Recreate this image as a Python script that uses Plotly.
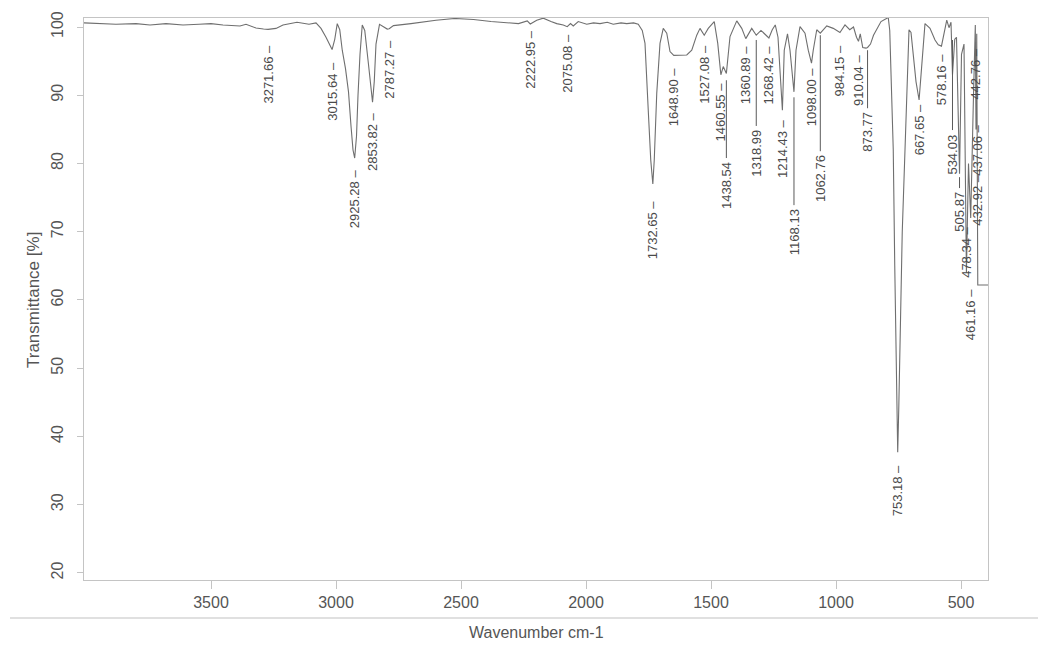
import plotly.graph_objects as go

# FT-IR spectrum: wavenumber (cm-1) vs transmittance (%)
wavenumber = [
    4008, 3880, 3800, 3744, 3680, 3612, 3548, 3500, 3452, 3384, 3360, 3320, 3290, 3271.66,
    3240, 3212, 3156, 3108, 3080, 3060, 3040, 3025, 3015.64, 3005, 2995, 2985, 2975, 2962,
    2950, 2940, 2932, 2925.28, 2918, 2912, 2904, 2895, 2885, 2870, 2860, 2853.82, 2847, 2840,
    2826, 2810, 2795, 2787.27, 2770, 2700, 2600, 2525, 2450, 2380, 2320, 2270, 2235, 2222.95,
    2197, 2171, 2140, 2117, 2091, 2075.08, 2062, 2051, 2031, 1997, 1970, 1944, 1915, 1891,
    1860, 1837, 1810, 1791, 1775, 1764, 1751, 1741, 1732.65, 1727, 1717, 1704, 1691, 1677,
    1664, 1648.90, 1597, 1577, 1557, 1544, 1527.08, 1511, 1487, 1473, 1460.55, 1451, 1438.54,
    1424, 1397, 1377, 1360.89, 1337, 1318.99, 1300, 1268.42, 1255, 1243, 1232, 1214.43, 1207,
    1194, 1184, 1168.13, 1160, 1144, 1124, 1111, 1098.00, 1091, 1077, 1062.76, 1037, 1011,
    984.15, 964, 945, 930, 918, 910.04, 903, 893, 880, 873.77, 862, 850, 835, 820, 800, 791,
    785, 778, 771, 765, 760, 756, 753.18, 749, 742, 735, 724, 715, 708, 700, 690, 680, 667.65,
    660, 652, 644, 624, 604, 591, 578.16, 557, 548, 540, 534.03, 525, 518, 505.87, 498, 488,
    478.34, 470, 461.16, 450, 442.76, 440, 437.06, 432.92, 392,
]
transmittance = [
    100.6, 100.4, 100.5, 100.3, 100.5, 100.3, 100.4, 100.5, 100.3, 100.15, 100.4, 99.85, 99.7, 99.65,
    99.8, 100.3, 100.7, 100.4, 100.6, 99.8, 98.5, 97.4, 96.7, 98.2, 100.5, 99.6, 96.6, 93.9,
    90.5, 85.5, 82.0, 80.8, 84.0, 90.0, 96.0, 100.3, 99.5, 94.5, 90.5, 89.0, 92.0, 97.5,
    100.4, 100.0, 99.7, 99.75, 100.2, 100.5, 101.0, 101.25, 101.1, 100.8, 100.6, 100.5, 100.9, 100.45,
    101.0, 101.3, 100.8, 100.5, 100.3, 100.05, 100.5, 100.15, 100.8, 100.4, 100.6, 100.5, 100.7, 100.4,
    100.6, 100.5, 100.6, 100.4, 99.5, 97.6, 87.8, 80.5, 77.0, 80.5, 90.3, 97.6, 99.8, 99.1,
    96.4, 95.85, 95.9, 96.6, 98.8, 99.8, 98.8, 99.8, 100.8, 97.6, 93.0, 94.2, 93.2,
    98.6, 100.9, 99.8, 98.3, 99.8, 98.8, 99.5, 98.4, 99.6, 100.3, 98.5, 87.8, 96.6,
    99.0, 96.6, 90.5, 96.6, 100.05, 99.1, 96.6, 94.7, 96.6, 99.6, 99.1, 100.15, 99.8,
    99.2, 100.3, 99.6, 100.0, 98.5, 97.9, 99.0, 97.0, 96.9, 97.0, 97.5, 98.8, 99.8, 100.8, 101.2, 101.4,
    99.5, 92.0, 82.0, 65.0, 50.0, 42.0, 37.7, 44.0, 58.0, 70.0, 82.0, 92.0, 99.6, 99.2, 96.0, 92.0, 89.3,
    93.0, 98.0, 100.5, 99.8, 98.1, 97.4, 97.2, 101.0, 99.9, 100.7, 93.0, 98.2, 98.5, 78.5, 96.0, 97.5,
    64.0, 80.0, 72.0, 90.0, 100.3, 85.0, 99.0, 62.2, 62.2,
]

# Peak picks: labelled wavenumbers
peak_labels = [
    3271.66, 3015.64, 2925.28, 2853.82, 2787.27, 2222.95, 2075.08, 1732.65, 1648.90,
    1527.08, 1460.55, 1438.54, 1360.89, 1318.99, 1268.42, 1214.43, 1168.13, 1098.00,
    1062.76, 984.15, 910.04, 873.77, 753.18, 667.65, 578.16, 534.03, 505.87, 478.34,
    461.16, 442.76, 437.06, 432.92,
]

# Label placement (top of label text, optional leader end), in % units
label_top = [
    97.66, 95.16, 79.49, 87.84, 98.39, 99.85, 99.27, 74.95, 94.43,
    97.66, 92.23, 80.5, 97.66, 85.2, 97.66, 86.8, 73.6, 94.4,
    81.5, 97.66, 96.2, 87.8, 36.1, 88.9, 96.3, 84.6, 76.1, 71.0,
    61.9, 97.1, 86.0, 78.7,
]
leader_top = {
    1438.54: 92.2, 1318.99: 98.1, 1168.13: 89.7, 1062.76: 98.8,
    873.77: 96.6, 534.03: 98.1, 505.87: 78.0,
}

x_ticks = [3500, 3000, 2500, 2000, 1500, 1000, 500]
y_ticks = [20, 30, 40, 50, 60, 70, 80, 90, 100]

FONT = "Liberation Sans, Arial, sans-serif"
TXT = "#555555"
FRAME = "#c4c4c4"

# plot area in pixels
L, R, T, B = 84, 988, 18, 580
PW, PH = R - L, B - T


def px_x(x):
    return (x - L) / PW


def px_y(y):
    return (B - y) / PH


fig = go.Figure()
fig.add_trace(go.Scatter(
    x=wavenumber, y=transmittance, mode="lines",
    line=dict(color="#6f6f6f", width=1.1), hoverinfo="skip", showlegend=False,
))

annotations = []
shapes = []
for w, top in zip(peak_labels, label_top):
    lead = leader_top.get(w)
    text = f"{w:.2f}" if lead is not None else f"{w:.2f} \u2013"
    annotations.append(dict(
        x=w, y=top, xref="x", yref="y", text=text, textangle=-90,
        showarrow=False, xanchor="center", yanchor="top",
        font=dict(family=FONT, size=13, color="#4a4a4a"),
    ))
    if lead is not None:
        shapes.append(dict(type="line", xref="x", yref="y", x0=w, x1=w,
                           y0=top + 0.3, y1=lead, line=dict(color="#5a5a5a", width=1)))

annotations.append(dict(
    xref="paper", yref="paper", x=px_x(536), y=px_y(632), xanchor="center", yanchor="middle",
    text="Wavenumber cm-1", showarrow=False, font=dict(family=FONT, size=16, color=TXT),
))
annotations.append(dict(
    xref="paper", yref="paper", x=px_x(33), y=px_y(300), xanchor="center", yanchor="middle",
    text="Transmittance [%]", textangle=-90, showarrow=False,
    font=dict(family=FONT, size=17, color=TXT),
))

# separator rule above the axis title
shapes.append(dict(type="line", xref="paper", yref="paper",
                   x0=px_x(10), x1=px_x(1038), y0=px_y(618), y1=px_y(618),
                   line=dict(color="#d6d6d6", width=1.5)))

fig.update_layout(
    width=1038, height=652,
    margin=dict(l=L, r=1038 - R, t=T, b=652 - B),
    paper_bgcolor="white", plot_bgcolor="white",
    showlegend=False,
    shapes=shapes, annotations=annotations,
)

fig.update_xaxes(
    range=[4008, 392], tickvals=x_ticks, ticks="outside", ticklen=8, tickcolor=FRAME,
    showline=True, linecolor=FRAME, linewidth=1, mirror=True, showgrid=False, zeroline=False,
    tickfont=dict(family=FONT, size=16, color=TXT),
)
fig.update_yaxes(
    range=[18.97, 101.32], tickvals=y_ticks, ticks="outside", ticklen=6, tickcolor=FRAME,
    showline=True, linecolor=FRAME, linewidth=1, mirror=True, showgrid=False, zeroline=False,
    tickangle=-90, ticklabelstandoff=8,
    tickfont=dict(family=FONT, size=16, color=TXT),
)

fig.write_html("out.html")
